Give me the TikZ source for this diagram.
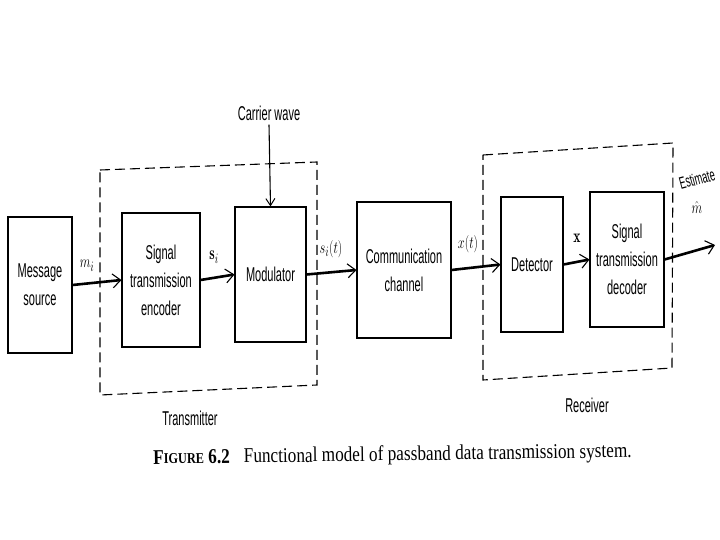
\documentclass[tikz,border=0pt]{standalone}
\usepackage{fontspec}
\usetikzlibrary{arrows.meta,calc}
\newfontfamily\dgfont[FakeStretch=0.55]{Liberation Sans}
\newfontfamily\capfont[FakeStretch=0.82]{Liberation Serif}
\newcommand{\nar}[1]{\scalebox{0.72}[1]{#1}}
\begin{document}
\begin{tikzpicture}[x=1pt,y=-1pt,
  blk/.style={draw,line width=1.1pt,rectangle,inner sep=0pt,align=center,
     font=\dgfont\fontsize{20}{28}\selectfont},
  lbl/.style={font=\dgfont\fontsize{20}{28}\selectfont,inner sep=0pt},
  sym/.style={font=\fontsize{19}{22}\selectfont,inner sep=0pt},
  flow/.style={line width=2.6pt,-{Straight Barb[length=8pt,width=14pt,line width=1.1pt]}},
  thin/.style={line width=1.1pt,-{Straight Barb[length=7pt,width=9pt,line width=1pt]}},
  grp/.style={line width=1.1pt,dash pattern=on 10pt off 5pt}]
\useasboundingbox (0,0) rectangle (720,540);
\fill[white] (0,0) rectangle (720,540);
% group boxes
\draw[grp] (100,170) -- (317,162) -- (317,385) -- (100,395) -- cycle;
\draw[grp] (483,155) -- (673,143) -- (672,368) -- (483,380) -- cycle;
% blocks
\node[blk,minimum width=64pt,minimum height=136pt] (msg) at (40,285) {Message\\source};
\node[blk,minimum width=78pt,minimum height=134pt] (enc) at (161,280) {Signal\\transmission\\encoder};
\node[blk,minimum width=71pt,minimum height=135pt] (mod) at (270.5,274.5) {Modulator};
\node[blk,minimum width=94pt,minimum height=136pt] (chan) at (404,270) {Communication\\channel};
\node[blk,minimum width=62pt,minimum height=135pt] (det) at (532,264.5) {Detector};
\node[blk,minimum width=74pt,minimum height=135pt] (dec) at (627,259.5) {Signal\\transmission\\decoder};
% labels
\node[lbl] (cw) at (269,113) {Carrier wave};
\node[lbl] (tx) at (190,418) {Transmitter};
\node[lbl] (rx) at (587,405) {Receiver};
\node[lbl,align=center,anchor=north] (est) at (697,168)
  {{\fontsize{17}{18}\selectfont\rotatebox{15}{Estimate}}\\[-4pt]
   {\fontsize{19}{22}\selectfont\nar{$\hat{m}$}}};
\node[sym] (mi) at (87,266) {\nar{$m_i$}};
\node[sym] (si) at (214,257) {\nar{$\mathbf{s}_i$}};
\node[sym] (sit) at (331,249) {\nar{$s_i(t)$}};
\node[sym] (xt) at (468,244) {\nar{$x(t)$}};
\node[sym] (xv) at (577,238) {\nar{$\mathbf{x}$}};
\coordinate (out) at (715,245);
% connectors
\draw[thin] ($(cw.south)+(0,4)$) -- (mod.north);
\draw[flow] (msg.east) -- (enc.west);
\draw[flow] (enc.east) -- (mod.west);
\draw[flow] (mod.east) -- (chan.west);
\draw[flow] (chan.east) -- (det.west);
\draw[flow] (det.east) -- (dec.west);
\draw[flow] (dec.east) -- (out);
% caption
\node[font=\capfont\fontsize{21}{24}\selectfont,inner sep=0pt,anchor=west,rotate=0.8] (capt) at (153,459)
  {\textbf{F{\fontsize{15}{18}\selectfont IGURE} 6.2}\hspace{14pt}Functional model of passband data transmission system.};
\end{tikzpicture}
\end{document}
